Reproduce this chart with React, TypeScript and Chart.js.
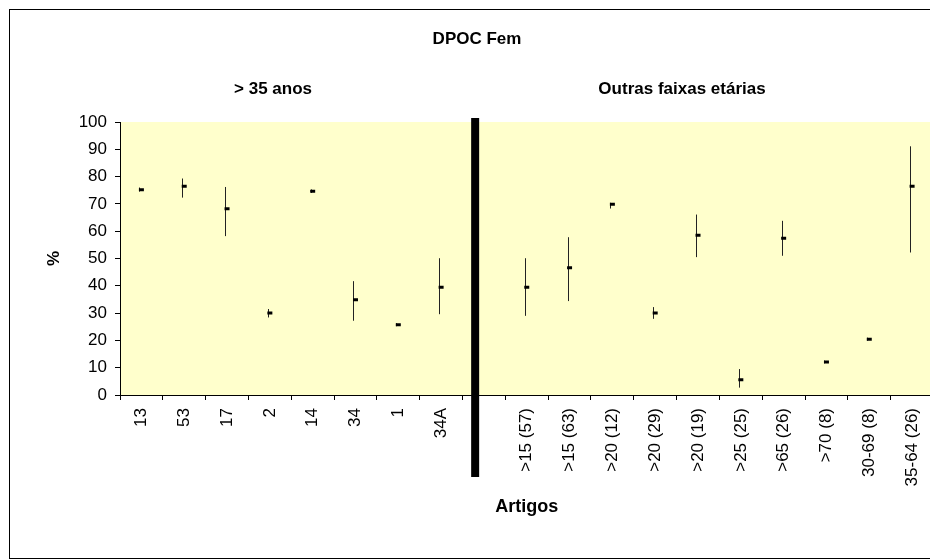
import React, { useEffect, useRef } from "react";
import { Chart, registerables } from "chart.js";

Chart.register(...registerables);

const categories = [
  "13", "53", "17", "2", "14", "34", "1", "34A", "",
  ">15 (57)", ">15 (63)", ">20 (12)", ">20 (29)", ">20 (19)", ">25 (25)", ">65 (26)", ">70 (8)", "30-69 (8)", "35-64 (26)",
];
const values = [75.2, 76.5, 68.2, 30.0, 74.6, 34.9, 25.7, 39.5, null, 39.5, 46.6, 69.9, 30.0, 58.5, 5.6, 57.4, 12.1, 20.4, 76.5];
const lows = [74.5, 72.3, 58.2, 28.4, 74.0, 27.2, 25.2, 29.6, null, 29.0, 34.4, 68.3, 27.9, 50.5, 2.7, 51.0, 11.6, 19.9, 52.2];
const highs = [76.0, 79.3, 76.2, 31.5, 75.3, 41.7, 26.3, 50.1, null, 50.1, 57.8, 70.4, 32.2, 66.1, 9.5, 63.8, 12.6, 21.0, 91.1];
const yTicks = { min: 0, max: 100, step: 10 };

const chartTitle = "DPOC Fem";
const groupTitles = ["> 35 anos", "Outras faixas etárias"];
const xTitle = "Artigos";
const yTitle = "%";
const separatorIndex = 8;

const FONT = "'Liberation Sans', Arial, sans-serif";

export default function App() {
  const ref = useRef<HTMLCanvasElement | null>(null);

  useEffect(() => {
    if (!ref.current) return;

    const decor = {
      id: "decor",
      beforeDraw(chart: any) {
        const { ctx, chartArea } = chart;
        ctx.save();
        ctx.fillStyle = "#ffffff";
        ctx.fillRect(0, 0, chart.width, chart.height);
        ctx.fillStyle = "#FFFFCC";
        ctx.fillRect(chartArea.left, chartArea.top, chartArea.right - chartArea.left, chartArea.bottom - chartArea.top);
        ctx.strokeStyle = "#000";
        ctx.lineWidth = 1;
        ctx.strokeRect(9.5, 9.5, chart.width + 20, chart.height - 11);
        ctx.restore();
      },
      beforeDatasetsDraw(chart: any) {
        const { ctx, scales } = chart;
        const xs = scales.x;
        const ys = scales.y;
        ctx.save();
        ctx.strokeStyle = "#222";
        ctx.lineWidth = 1;
        for (let i = 0; i < values.length; i++) {
          if (values[i] == null || lows[i] == null || highs[i] == null) continue;
          const x = Math.round(xs.getPixelForValue(i)) - 1.5;
          ctx.beginPath();
          ctx.moveTo(x, ys.getPixelForValue(lows[i] as number));
          ctx.lineTo(x, ys.getPixelForValue(highs[i] as number));
          ctx.stroke();
        }
        ctx.restore();
      },
      afterDraw(chart: any) {
        const { ctx, scales, chartArea } = chart;
        const xs = scales.x;
        const w = xs.getPixelForValue(1) - xs.getPixelForValue(0);
        const left = xs.getPixelForValue(separatorIndex) - w / 2;
        const cx = left + 0.295 * w;
        ctx.save();
        ctx.fillStyle = "#000";
        ctx.fillRect(cx - 4, chartArea.top - 4, 8, chartArea.bottom - chartArea.top + 86);
        ctx.fillStyle = "#000";
        ctx.textAlign = "center";
        ctx.textBaseline = "middle";
        ctx.font = `bold 17px ${FONT}`;
        ctx.fillText(chartTitle, 477, 39);
        ctx.fillText(groupTitles[0], 273, 89);
        ctx.fillText(groupTitles[1], 682, 89);
        ctx.restore();
      },
    };

    const chart = new Chart(ref.current, {
      type: "line",
      data: {
        labels: categories,
        datasets: [
          {
            data: values,
            showLine: false,
            pointStyle: "line",
            pointRadius: 2.5,
            pointBorderWidth: 3,
            pointBorderColor: "#000",
            pointBackgroundColor: "#000",
            borderColor: "#000",
          },
        ],
      },
      options: {
        responsive: false,
        animation: false,
        layout: { padding: { left: 10, right: 11.5, top: 122, bottom: 0 } },
        plugins: {
          legend: { display: false },
          tooltip: { enabled: false },
          title: { display: false },
        },
        scales: {
          x: {
            type: "category",
            offset: true,
            grid: {
              offset: true,
              drawOnChartArea: false,
              drawTicks: true,
              tickLength: 5,
              color: "#000",
            },
            border: { display: true, color: "#000", width: 1 },
            ticks: {
              autoSkip: false,
              minRotation: 90,
              maxRotation: 90,
              padding: 8,
              color: "#000",
              font: { family: FONT, size: 17 },
            },
            title: {
              display: true,
              text: xTitle,
              color: "#000",
              font: { family: FONT, size: 18, weight: "bold" },
              padding: { top: 0, bottom: 42 },
            },
            afterFit(scale: any) {
              scale.height = 165;
            },
          },
          y: {
            min: yTicks.min,
            max: yTicks.max,
            grid: {
              drawOnChartArea: false,
              drawTicks: true,
              tickLength: 5,
              color: "#000",
            },
            border: { display: true, color: "#000", width: 1 },
            ticks: {
              stepSize: yTicks.step,
              padding: 8,
              color: "#000",
              font: { family: FONT, size: 17 },
            },
            title: {
              display: true,
              text: yTitle,
              color: "#000",
              font: { family: FONT, size: 17, weight: "bold" },
              padding: { top: 34, bottom: 0 },
            },
            afterFit(scale: any) {
              scale.width = 110;
            },
          },
        },
      },
      plugins: [decor],
    });

    return () => chart.destroy();
  }, []);

  return (
    <div style={{ position: "fixed", left: 0, top: 0, width: 930, height: 560, overflow: "hidden", background: "#fff" }}>
      <canvas ref={ref} width={945} height={560} style={{ display: "block", width: 945, height: 560 }} />
    </div>
  );
}
